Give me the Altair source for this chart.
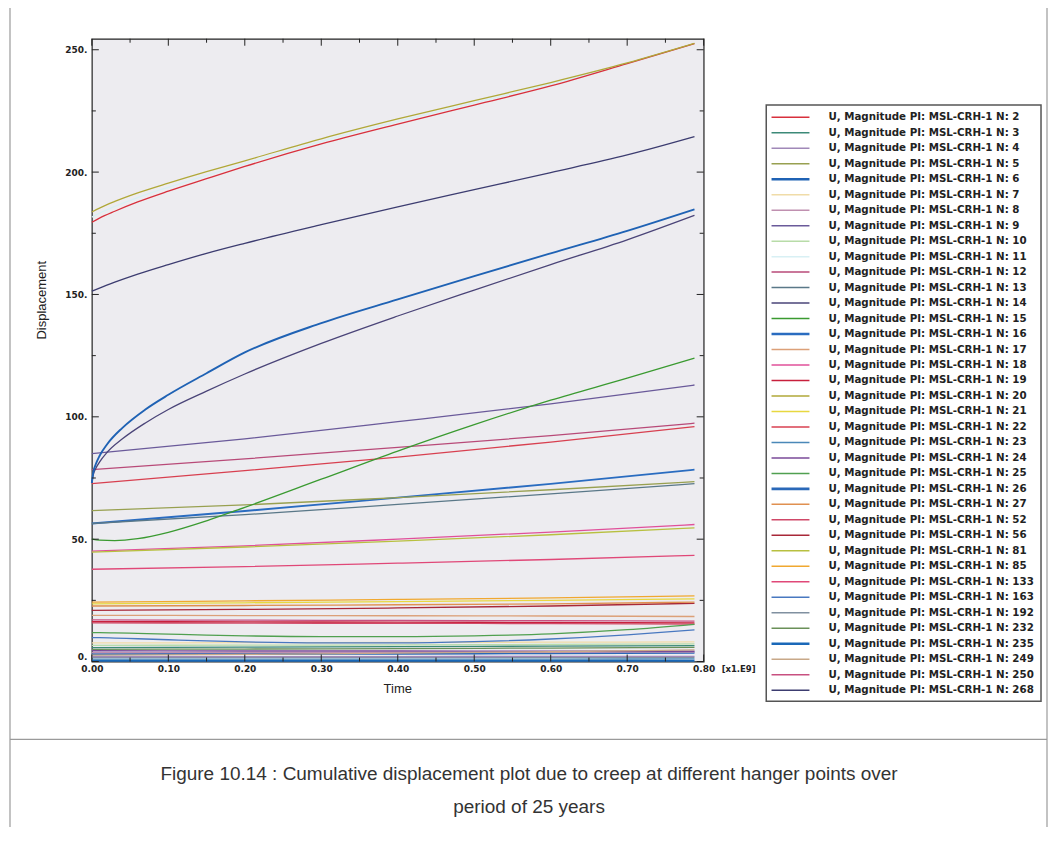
import altair as alt
import pandas as pd

# ---------------- data (time in units of 1e9 s, displacement) ----------------
T_FINE = [0, 0.01, 0.03, 0.06, 0.1, 0.15, 0.2, 0.3, 0.4, 0.5, 0.6, 0.7, 0.788]
T_SQRT = [0, 0.002, 0.005, 0.01, 0.02, 0.04, 0.07, 0.1, 0.15, 0.2, 0.3, 0.4, 0.5, 0.6, 0.7, 0.788]
T_LIN = [0, 0.2, 0.4, 0.6, 0.788]

# legend order
NODES = [2, 3, 4, 5, 6, 7, 8, 9, 10, 11, 12, 13, 14, 15, 16, 17, 18, 19, 20, 21,
         22, 23, 24, 25, 26, 27, 52, 56, 81, 85, 133, 163, 192, 232, 235, 249, 250, 268]
COLORS = ["#d8303c", "#3c8a78", "#a088b8", "#98a050", "#1f62b4", "#f0dca8", "#c090b0",
          "#6a5a9a", "#b8dca8", "#d8f0f4", "#b84a78", "#5a7888", "#4a4478", "#3a9a30",
          "#2a6cc0", "#dca078", "#e0509a", "#c8203c", "#b0a838", "#e8d840", "#d84050",
          "#4a88b8", "#7a4a98", "#50a050", "#2a68b8", "#e09050", "#d04868", "#a82838",
          "#b8c040", "#f0a830", "#e04878", "#4878c0", "#8090a0", "#6a9058", "#1a68b8",
          "#c8a888", "#c85080", "#3c3c70"]
THICK = [6, 16, 26, 235]

# steep early creep (square-root like start)
SQRT_NODES = [14, 6]
SQRT_VALUES = [
    [73.0, 76.5, 78.8, 81.5, 85.5, 91.0, 97.5, 103.0, 110.5, 117.5, 130.0, 141.2, 151.8, 162.2, 172.3, 182.3],
    [73.0, 77.5, 80.5, 84.0, 88.8, 95.5, 103.0, 109.0, 117.8, 126.3, 138.3, 148.0, 157.5, 166.8, 176.0, 184.8],
]

# curved series on the fine time grid
FINE_NODES = [11, 2, 20, 268, 15, 25, 163]
FINE_VALUES = [
    [181.6, 183.2, 186.0, 189.6, 193.8, 198.7, 203.4, 212.6, 220.7, 228.3, 235.9, 244.4, 252.5],
    [179.5, 181.2, 184.0, 187.8, 192.2, 197.3, 202.3, 211.5, 219.6, 227.4, 235.2, 244.3, 252.5],
    [183.7, 185.3, 188.0, 191.5, 195.5, 200.2, 204.6, 213.6, 221.7, 229.2, 236.6, 244.6, 252.6],
    [151.3, 152.6, 155.0, 158.3, 162.2, 166.8, 170.9, 178.5, 185.8, 192.8, 199.8, 207.0, 214.5],
    [50.0, 49.6, 49.4, 50.2, 52.8, 57.5, 63.0, 74.5, 86.0, 96.8, 106.8, 115.8, 124.0],
    [11.8, 11.8, 11.7, 11.5, 11.2, 10.8, 10.5, 10.2, 10.2, 10.5, 11.3, 13.0, 15.2],
    [9.8, 9.8, 9.6, 9.3, 8.9, 8.4, 8.0, 7.6, 7.6, 8.1, 9.2, 10.9, 12.9],
]

# nearly straight series on the coarse time grid
LIN_NODES = [9, 12, 22, 5, 13, 16, 81, 18, 133, 21, 85, 27, 56, 17, 250, 19, 52,
             7, 10, 3, 232, 249, 24, 8, 26, 4, 192, 23, 235]
LIN_VALUES = [
    [85.0, 91.0, 98.0, 105.3, 113.0],
    [78.4, 82.8, 87.5, 92.3, 97.4],
    [72.7, 78.0, 83.5, 89.7, 96.0],
    [61.7, 64.0, 67.0, 70.2, 73.5],
    [56.4, 60.0, 64.2, 68.5, 72.7],
    [56.4, 61.5, 67.0, 72.6, 78.4],
    [44.7, 46.8, 49.2, 51.8, 54.6],
    [45.1, 47.3, 50.0, 52.9, 56.0],
    [37.7, 38.8, 40.2, 41.7, 43.4],
    [23.6, 24.0, 24.5, 25.0, 25.6],
    [24.3, 24.8, 25.4, 26.0, 26.8],
    [22.7, 22.9, 23.2, 23.6, 24.3],
    [20.9, 21.3, 21.9, 22.7, 23.8],
    [18.9, 18.8, 18.7, 18.6, 18.4],
    [17.0, 16.9, 16.8, 16.7, 16.5],
    [16.3, 16.2, 16.1, 16.0, 15.8],
    [15.8, 15.7, 15.6, 15.5, 15.3],
    [7.6, 7.7, 7.8, 7.9, 8.0],
    [6.6, 6.7, 6.8, 7.0, 7.2],
    [5.7, 5.9, 6.1, 6.3, 6.5],
    [5.0, 5.1, 5.3, 5.5, 5.8],
    [2.6, 2.9, 3.4, 4.0, 4.8],
    [4.4, 4.3, 4.3, 4.2, 4.2],
    [3.6, 3.6, 3.7, 3.8, 3.9],
    [3.0, 3.1, 3.2, 3.4, 3.6],
    [2.0, 2.0, 2.0, 2.1, 2.1],
    [1.7, 1.7, 1.7, 1.7, 1.7],
    [1.0, 1.0, 1.0, 1.0, 1.1],
    [0.3, 0.3, 0.3, 0.3, 0.3],
]

X_MAJOR = [0.0, 0.1, 0.2, 0.3, 0.4, 0.5, 0.6, 0.7, 0.8]
X_MINOR = [0.05, 0.15, 0.25, 0.35, 0.45, 0.55, 0.65, 0.75]
Y_MAJOR = [0, 50, 100, 150, 200, 250]
Y_MINOR = [25, 75, 125, 175, 225]

CAPTION_1 = "Figure 10.14 : Cumulative displacement plot due to creep at different hanger points over"
CAPTION_2 = "period of 25 years"

# ---------------- build tables ----------------
rows = []
order = 0


def add(nodes, grid, values):
    global order
    for n, vals in zip(nodes, values):
        for t, v in zip(grid, vals):
            rows.append({"node": f"N{n}", "t": t, "u": v,
                         "w": 1.9 if n in THICK else 1.3, "o": order})
        order += 1


add(LIN_NODES[::-1], T_LIN, LIN_VALUES[::-1])
add(FINE_NODES, T_FINE, FINE_VALUES)
add(SQRT_NODES, T_SQRT, SQRT_VALUES)
df = pd.DataFrame(rows)

leg = pd.DataFrame({
    "node": [f"N{n}" for n in NODES],
    "row": list(range(len(NODES))),
    "label": [f"U, Magnitude PI: MSL-CRH-1 N: {n}" for n in NODES],
    "w": [2.6 if n in THICK else 1.5 for n in NODES],
})

W, H = 613, 624
xs = alt.Scale(domain=[0, 0.8], nice=False, zero=False)
ys = alt.Scale(domain=[0, 254.5], nice=False, zero=False)
cs = alt.Scale(domain=[f"N{n}" for n in NODES], range=COLORS)
one = pd.DataFrame({"k": [0]})

X_AXIS = alt.Axis(values=X_MAJOR, format=".2f", title=None, labelPadding=3, labelFlush=False)
Y_AXIS = alt.Axis(values=Y_MAJOR, labelExpr="datum.value + '.'", title=None, labelPadding=5,
                  labelFlush=False,
                  labelBaseline={"condition": {"test": "datum.value == 0", "value": "bottom"},
                                 "value": "middle"})

lines = alt.Chart(df).mark_line(interpolate="monotone").encode(
    x=alt.X("t:Q", scale=xs, axis=X_AXIS),
    y=alt.Y("u:Q", scale=ys, axis=Y_AXIS),
    color=alt.Color("node:N", scale=cs, legend=None),
    strokeWidth=alt.StrokeWidth("w:Q", scale=None),
    order=alt.Order("o:Q"),
)

xmaj = pd.DataFrame({"v": X_MAJOR})
xmin = pd.DataFrame({"v": X_MINOR})
ymaj = pd.DataFrame({"v": Y_MAJOR})
ymin = pd.DataFrame({"v": Y_MINOR})
tk = dict(color="#222", strokeWidth=1)


def xt(data, y0, y1):
    return alt.Chart(data).mark_rule(**tk).encode(
        x=alt.X("v:Q", scale=xs, axis=X_AXIS), y=alt.value(y0), y2=alt.value(y1))


def yt(data, x0, x1):
    return alt.Chart(data).mark_rule(**tk).encode(
        y=alt.Y("v:Q", scale=ys, axis=Y_AXIS), x=alt.value(x0), x2=alt.value(x1))


ticks = [xt(xmaj, H, H - 7), xt(xmin, H, H - 4), xt(xmaj, 0, 7), xt(xmin, 0, 4),
         yt(ymaj, 0, 7), yt(ymin, 0, 4), yt(ymaj, W, W - 7), yt(ymin, W, W - 4)]


def txt(s, x, y, **kw):
    return alt.Chart(one).mark_text(**kw).encode(x=alt.value(x), y=alt.value(y), text=alt.value(s))


extra = [
    txt("[x1.E9]", 631, 631, font="DejaVu Sans", fontWeight="bold", fontSize=8.5, align="left",
        baseline="middle", color="#222"),
    txt("Time", W / 2, 652, font="Liberation Sans", fontSize=13, align="center",
        baseline="middle", color="#222"),
    txt("Displacement", -50, 262, font="Liberation Sans", fontSize=13, align="center",
        baseline="middle", color="#222", angle=270),
    txt(CAPTION_1, 438, 737, font="Liberation Sans", fontSize=19, align="center",
        baseline="middle", color="#333"),
    txt(CAPTION_2, 438, 770, font="Liberation Sans", fontSize=19, align="center",
        baseline="middle", color="#333"),
]

frame_c = "#9a9a9a"
frame = [
    alt.Chart(one).mark_rule(color=frame_c, strokeWidth=1.2).encode(
        x=alt.value(-82), y=alt.value(-36), y2=alt.value(810)),
    alt.Chart(one).mark_rule(color=frame_c, strokeWidth=1.2).encode(
        x=alt.value(957), y=alt.value(-36), y2=alt.value(810)),
    alt.Chart(one).mark_rule(color=frame_c, strokeWidth=1.2).encode(
        x=alt.value(-82), x2=alt.value(957), y=alt.value(702)),
]

legbox = alt.Chart(one).mark_rect(fill="white", stroke="#555", strokeWidth=1.5).encode(
    x=alt.value(675.7), x2=alt.value(951), y=alt.value(66.3), y2=alt.value(663.7))

ly = alt.Scale(domain=[0, len(NODES) - 1], range=[78.7, 652.7], nice=False, zero=False)
leg_lines = alt.Chart(leg).mark_rule().encode(
    x=alt.value(681), x2=alt.value(719),
    y=alt.Y("row:Q", scale=ly, axis=None),
    color=alt.Color("node:N", scale=cs, legend=None),
    strokeWidth=alt.StrokeWidth("w:Q", scale=None),
)
leg_text = alt.Chart(leg).mark_text(align="left", baseline="middle", font="DejaVu Sans",
                                    fontWeight="bold", fontSize=10.3, color="#222").encode(
    x=alt.value(738),
    y=alt.Y("row:Q", scale=ly, axis=None),
    text="label:N",
)

main = alt.layer(lines, *ticks, *extra, *frame)
legend = alt.layer(legbox, leg_lines, leg_text)

chart = alt.layer(main, legend).resolve_scale(y="independent").properties(
    width=W, height=H,
    autosize=alt.AutoSizeParams(type="none"),
    padding={"left": 84, "top": 30, "right": 345, "bottom": 165},
    background="white",
).configure_view(
    stroke="#222", strokeWidth=1.2, fill="#edecf0"
).configure_axis(
    domain=False, ticks=False, grid=False,
    labelFont="DejaVu Sans", labelFontWeight="bold", labelFontSize=9, labelColor="#222",
)

chart.save("out.html", embed_options={"renderer": "svg", "actions": False})
